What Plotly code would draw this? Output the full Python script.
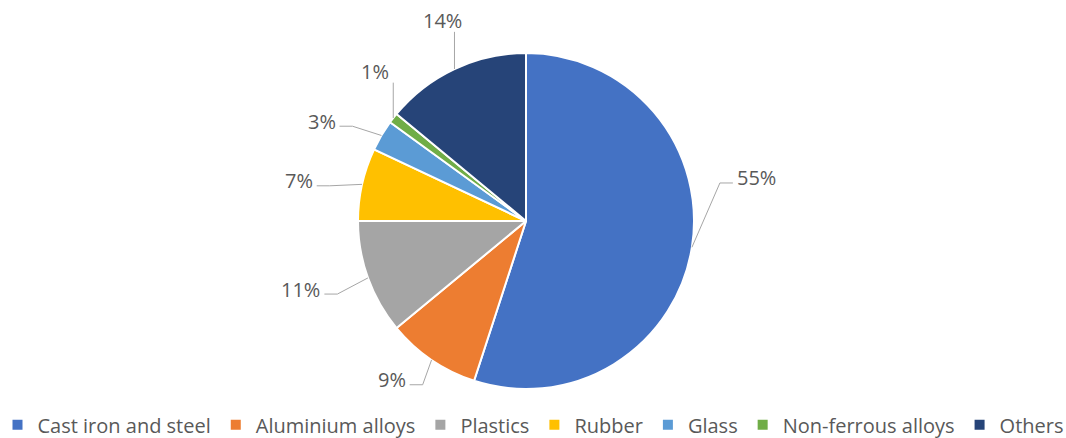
import math
import plotly.graph_objects as go

# ---- data ----
categories = ["Cast iron and steel", "Aluminium alloys", "Plastics", "Rubber",
              "Glass", "Non-ferrous alloys", "Others"]
shares = [55, 9, 11, 7, 3, 1, 14]
colors = ["#4472C4", "#ED7D31", "#A5A5A5", "#FFC000", "#5B9BD5", "#70AD47", "#264478"]

# ---- layout constants ----
W, H = 1066, 438
CX, CY, R = 526, 221, 168          # pie centre / radius in pixels
LABEL_FONT = 20
LEGEND_FONT = 20
TEXT_COLOR = "#595959"
LINE_COLOR = "#A6A6A6"
# label placement nudges (px) relative to a point 30px outside the slice midpoint
label_nudge = [(35, -74), (-23, -5), (-39, 1), (-34, 3), (-34, 1), (5, -28), (1, -21)]


def px_to_paper(x, y):
    return x / W, 1 - y / H


def text_width(s):
    w = 0
    for ch in s:
        w += 0.823 if ch == "%" else 0.572
    return w * LABEL_FONT


fig = go.Figure(go.Pie(
    labels=categories,
    values=shares,
    sort=False,
    direction="clockwise",
    rotation=0,
    marker=dict(colors=colors, line=dict(color="white", width=2)),
    textinfo="none",
    hoverinfo="label+percent",
    domain=dict(x=[0, 2 * CX / W], y=[1 - (CY + R) / H, 1 - (CY - R) / H]),
))

total = sum(shares)
annotations = []
shapes = []
cum = 0
for i, v in enumerate(shares):
    mid = (cum + v / 2) / total * 2 * math.pi
    cum += v
    ux, uy = math.sin(mid), -math.cos(mid)
    px, py = CX + R * ux, CY + R * uy
    dx, dy = label_nudge[i]
    tx, ty = CX + (R + 30) * ux + dx, CY + (R + 30) * uy + dy
    txt = f"{v}%"
    w = text_width(txt)
    top = uy < 0 and abs(ux) < 0.8
    if top:
        qx, qy = px, ty + 11
        path = f"M{px/W},{1-py/H} L{qx/W},{1-qy/H}"
    else:
        side = 1 if ux > 0 else -1
        qx = tx - side * (w / 2 + 4)
        qy = ty + 5
        ex = qx - side * 13
        path = f"M{px/W},{1-py/H} L{ex/W},{1-qy/H} L{qx/W},{1-qy/H}"
    shapes.append(dict(type="path", path=path, xref="paper", yref="paper",
                       line=dict(color=LINE_COLOR, width=1)))
    ax, ay = px_to_paper(tx, ty)
    annotations.append(dict(x=ax, y=ay, xref="paper", yref="paper", text=txt,
                            showarrow=False, xanchor="center", yanchor="middle",
                            font=dict(size=LABEL_FONT, color=TEXT_COLOR,
                                      family="Open Sans")))

fig.update_layout(
    width=W, height=H,
    margin=dict(l=0, r=0, t=0, b=0, autoexpand=False),
    paper_bgcolor="white",
    plot_bgcolor="white",
    showlegend=True,
    legend=dict(orientation="h", x=0.5, xanchor="center", y=0.03, yanchor="middle",
                font=dict(size=LEGEND_FONT, color=TEXT_COLOR, family="Open Sans"),
                itemwidth=30, tracegroupgap=0,
                itemclick=False, traceorder="normal"),
    annotations=annotations,
    shapes=shapes,
)

fig.write_html("out.html")
